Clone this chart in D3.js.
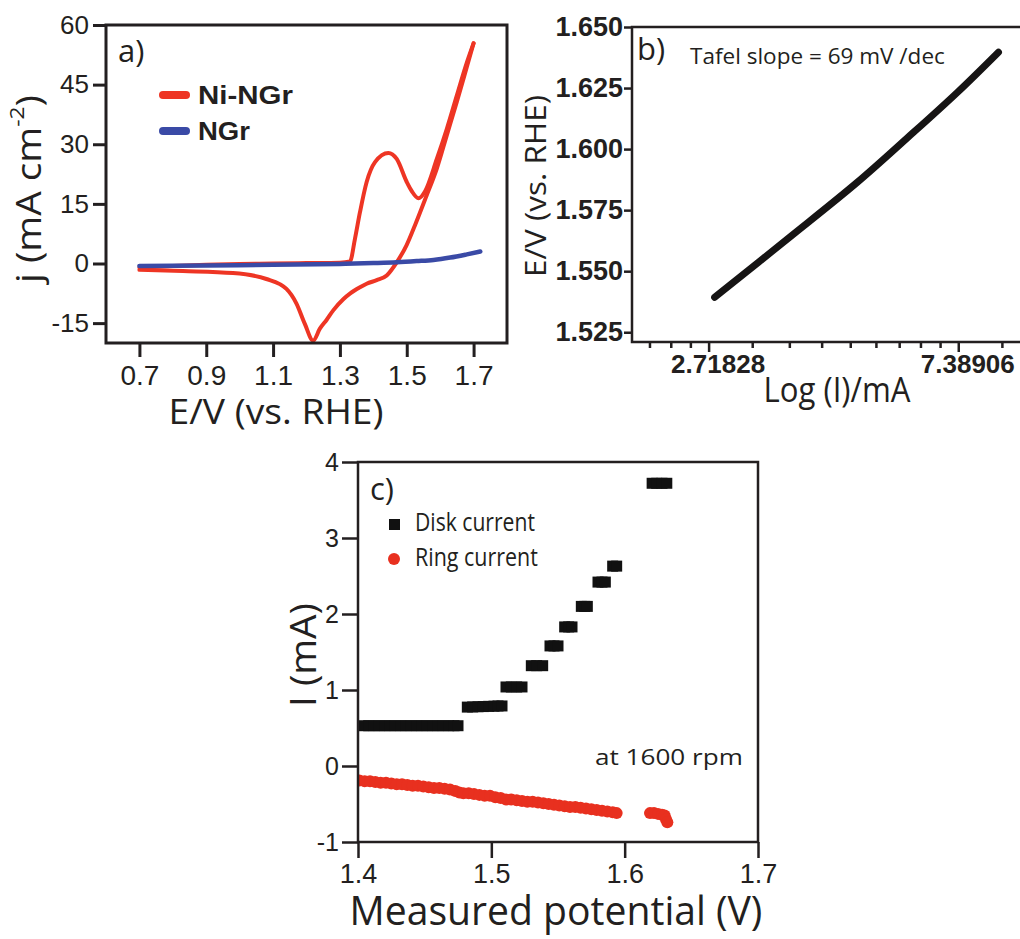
<!DOCTYPE html>
<html><head><meta charset="utf-8">
<script src="https://cdn.jsdelivr.net/npm/d3@7"></script>
<style>body{margin:0;background:#fff}</style>
</head><body><svg id="c" width="1020" height="939"></svg>
<script>
// ---------------- Panel a data ----------------
const aXTicks = [0.7, 0.9, 1.1, 1.3, 1.5, 1.7];
const aYTicks = [-15, 0, 15, 30, 45, 60];
const niFwdV = [0.70,0.80,0.90,1.00,1.10,1.20,1.30,1.33,1.345,1.36,1.38,1.405,1.445,1.47,1.50,1.515,1.535,1.555,1.59,1.62,1.65,1.68,1.70];
const niFwdJ = [-1.0,-0.6,-0.3,-0.1,0,0.1,0.2,0.5,6.2,12.9,20.5,25.5,27.8,26.3,20.5,18.2,16.4,18.2,26.3,33.9,42.3,50.6,55.4];
const niRevV = [0.70,0.83,0.98,1.08,1.14,1.17,1.195,1.22,1.24,1.26,1.28,1.31,1.33,1.36,1.38,1.41,1.44,1.47,1.50,1.525,1.558,1.59,1.62,1.65,1.68,1.70];
const niRevJ = [-1.6,-1.9,-2.4,-3.9,-6.4,-10.1,-15.2,-19.4,-16.4,-14.2,-11.8,-9.0,-7.6,-6.0,-5.1,-4.2,-3.0,0.3,4.7,9.7,16.8,23.9,32.3,40.7,49.5,55.4];
const ngrV = [0.70,0.90,1.10,1.30,1.40,1.47,1.53,1.58,1.63,1.68,1.72];
const ngrJ = [-0.6,-0.5,-0.3,-0.1,0.1,0.3,0.6,0.9,1.5,2.3,3.0];

// ---------------- Panel b data ----------------
const bYTicks = [1.525, 1.550, 1.575, 1.600, 1.625, 1.650];
const bMajorTicks = [2.71828, 7.38906];
const bMinorTicks = [2.145, 2.336, 2.527, 3.237, 3.756, 4.275, 4.794, 5.313, 5.832, 6.351, 6.870, 8.800];
const tafelI = [2.785, 3.76, 4.92, 6.02, 7.36, 8.68];
const tafelE = [1.5393, 1.5639, 1.5862, 1.6045, 1.6232, 1.6397];

// ---------------- Panel c data ----------------
const cXTicks = [1.4, 1.5, 1.6, 1.7];
const cYTicks = [-1, 0, 1, 2, 3, 4];
const diskV = [1.404,1.408,1.412,1.416,1.420,1.424,1.428,1.432,1.436,1.440,1.444,1.448,1.452,1.456,1.460,1.464,1.468,1.472,1.475,
  1.482,1.486,1.490,1.494,1.498,1.502,1.505,1.508,
  1.511,1.515,1.519,1.523,
  1.530,1.534,1.5385,
  1.544,1.547,1.550,
  1.555,1.558,1.5605,
  1.5675,1.570,1.572,
  1.580,1.583,1.5855,
  1.591,1.594,
  1.6206,1.624,1.628,1.6316];
const diskI = [0.53,0.53,0.53,0.53,0.53,0.53,0.53,0.53,0.53,0.53,0.53,0.53,0.53,0.53,0.53,0.53,0.53,0.53,0.53,
  0.775,0.777,0.78,0.782,0.785,0.787,0.79,0.79,
  1.04,1.04,1.04,1.04,
  1.32,1.32,1.32,
  1.58,1.58,1.58,
  1.83,1.83,1.83,
  2.10,2.10,2.10,
  2.42,2.42,2.42,
  2.63,2.63,
  3.72,3.72,3.72,3.72];
const ringV = [1.401,1.405,1.409,1.413,1.417,1.421,1.425,1.429,1.433,1.437,1.441,1.445,1.449,1.453,1.457,1.461,1.465,1.469,1.473,1.476,1.479,
  1.483,1.487,1.491,1.495,1.499,1.503,1.507,1.511,1.515,1.519,1.523,1.527,1.531,1.535,1.539,1.543,1.547,1.551,1.555,1.559,1.563,1.567,1.571,1.575,1.579,1.583,1.587,1.591,1.594,
  1.619,1.622,1.625,1.628,1.630,1.631,1.632];
const ringI = [-0.19,-0.20,-0.20,-0.21,-0.22,-0.22,-0.23,-0.24,-0.24,-0.25,-0.26,-0.26,-0.27,-0.28,-0.29,-0.29,-0.30,-0.31,-0.33,-0.35,-0.36,
  -0.36,-0.37,-0.38,-0.39,-0.39,-0.41,-0.42,-0.44,-0.44,-0.45,-0.46,-0.47,-0.47,-0.48,-0.49,-0.50,-0.51,-0.52,-0.53,-0.54,-0.54,-0.55,-0.56,-0.57,-0.58,-0.59,-0.60,-0.61,-0.62,
  -0.62,-0.62,-0.63,-0.64,-0.65,-0.70,-0.74];

const zip = (a, b) => a.slice(0, Math.min(a.length, b.length)).map((v, i) => [v, b[i]]);

const svg = d3.select('#c');
const INK = '#231f20';
const SANS = "'Liberation Sans', Arial, sans-serif";
const MYR = "'Open Sans', 'Noto Sans', sans-serif";
const RED = '#ee3524', BLUE = '#3a4aa6', RING = '#e8301f';

function label(g, o) {
  const t = g.append('text')
    .attr('font-size', o.size).attr('font-family', o.family || MYR)
    .attr('font-weight', o.weight || 'normal')
    .attr('text-anchor', o.anchor || 'start')
    .attr('fill', o.fill || INK);
  if (o.baseline) t.attr('dominant-baseline', o.baseline);
  if (o.build) o.build(t); else t.text(o.text);
  let k = 1;
  if (o.width) { const L = t.node().getComputedTextLength(); if (L > 0) k = o.width / L; }
  t.attr('transform', `translate(${o.x},${o.y}) rotate(${o.rotate || 0}) scale(${k},1)`);
  return t;
}
function styleAxis(g, sw, font, size, weight) {
  g.select('.domain').remove();
  g.selectAll('.tick line').attr('stroke', INK).attr('stroke-width', sw);
  g.selectAll('.tick text').attr('fill', INK).attr('font-family', font).attr('font-size', size).attr('font-weight', weight || 'normal');
}

// =============== Panel a ===============
{
  const g = svg.append('g');
  const x = d3.scaleLinear().domain([0.6, 1.8]).range([106, 507]);
  const y = d3.scaleLinear().domain([-20, 60]).range([343, 25]);
  const line = d3.line().x(d => x(d[0])).y(d => y(d[1])).curve(d3.curveMonotoneX);
  g.append('clipPath').attr('id', 'clipA').append('rect')
    .attr('x', x(0.6)).attr('y', y(60) - 2).attr('width', x(1.8) - x(0.6)).attr('height', y(-20) - y(60) + 2);
  const plot = g.append('g').attr('clip-path', 'url(#clipA)');
  plot.append('path').attr('d', line(zip(niRevV, niRevJ))).attr('fill', 'none').attr('stroke', RED).attr('stroke-width', 4).attr('stroke-linecap', 'round');
  plot.append('path').attr('d', line(zip(niFwdV, niFwdJ))).attr('fill', 'none').attr('stroke', RED).attr('stroke-width', 4).attr('stroke-linecap', 'round');
  plot.append('path').attr('d', line(zip(ngrV, ngrJ))).attr('fill', 'none').attr('stroke', BLUE).attr('stroke-width', 4.5).attr('stroke-linecap', 'round');

  g.append('rect').attr('x', x(0.6)).attr('y', y(60)).attr('width', x(1.8) - x(0.6)).attr('height', y(-20) - y(60))
    .attr('fill', 'none').attr('stroke', INK).attr('stroke-width', 3);
  const ax = g.append('g').attr('transform', `translate(0,${y(-20)})`)
    .call(d3.axisBottom(x).tickValues(aXTicks).tickSize(14).tickSizeOuter(0).tickPadding(8).tickFormat(d3.format('.1f')));
  styleAxis(ax, 3, SANS, 28);
  const ay = g.append('g').attr('transform', `translate(${x(0.6)},0)`)
    .call(d3.axisLeft(y).tickValues(aYTicks).tickSize(13).tickSizeOuter(0).tickPadding(4).tickFormat(d => String(d)));
  styleAxis(ay, 3, SANS, 26);

  label(g, { x: 276, y: 424, text: 'E/V (vs. RHE)', size: 35, anchor: 'middle', width: 215 });
  label(g, { x: 28, y: 189, rotate: -90, size: 34, anchor: 'middle', baseline: 'central', width: 188,
    build: t => { t.append('tspan').text('j (mA cm'); t.append('tspan').attr('font-size', 20).attr('dy', -12).text('-2'); t.append('tspan').attr('dy', 12).text(')'); } });
  label(g, { x: 118, y: 62, text: 'a)', size: 31 });
  // legend
  g.append('line').attr('x1', 163).attr('x2', 186).attr('y1', 95).attr('y2', 95).attr('stroke', RED).attr('stroke-width', 8).attr('stroke-linecap', 'round');
  label(g, { x: 198, y: 104, text: 'Ni-NGr', size: 26, family: SANS, weight: 'bold', width: 95 });
  g.append('line').attr('x1', 163).attr('x2', 186).attr('y1', 131).attr('y2', 131).attr('stroke', BLUE).attr('stroke-width', 8).attr('stroke-linecap', 'round');
  label(g, { x: 198, y: 140, text: 'NGr', size: 26, family: SANS, weight: 'bold', width: 52 });
}

// =============== Panel b ===============
{
  const g = svg.append('g');
  const x = d3.scaleLog().domain([2, 9.5]).range([632, 1021]);
  const y = d3.scaleLinear().domain([1.521, 1.650]).range([342, 27]);
  const line = d3.line().x(d => x(d[0])).y(d => y(d[1])).curve(d3.curveCatmullRom.alpha(0.5));
  g.append('path').attr('d', line(zip(tafelI, tafelE))).attr('fill', 'none').attr('stroke', '#161414').attr('stroke-width', 7).attr('stroke-linecap', 'round');
  g.append('path').attr('d', `M${x(9.5) + 5},${y(1.650)}H${x(2)}V${y(1.521)}H${x(9.5) + 5}`)
    .attr('fill', 'none').attr('stroke', INK).attr('stroke-width', 2.5);
  const axMin = g.append('g').attr('transform', `translate(0,${y(1.521)})`)
    .call(d3.axisBottom(x).tickValues(bMinorTicks).tickSize(6).tickSizeOuter(0).tickFormat(''));
  styleAxis(axMin, 2.5, SANS, 10);
  const ax = g.append('g').attr('transform', `translate(0,${y(1.521)})`)
    .call(d3.axisBottom(x).tickValues(bMajorTicks).tickSize(10).tickSizeOuter(0).tickPadding(3).tickFormat(d => d.toFixed(5)));
  styleAxis(ax, 2.5, SANS, 26, 'bold');
  ax.selectAll('.tick text').attr('dx', 9);
  const ay = g.append('g').attr('transform', `translate(${x(2)},0)`)
    .call(d3.axisLeft(y).tickValues(bYTicks).tickSize(8).tickSizeOuter(0).tickPadding(1).tickFormat(d3.format('.3f')));
  styleAxis(ay, 2.5, SANS, 27, 'bold');

  label(g, { x: 837, y: 402, text: 'Log (I)/mA', size: 34, anchor: 'middle', width: 147 });
  label(g, { x: 534, y: 186, rotate: -90, text: 'E/V (vs. RHE)', size: 30, anchor: 'middle', baseline: 'central', width: 182 });
  label(g, { x: 637, y: 60, text: 'b)', size: 31 });
  label(g, { x: 690, y: 64, text: 'Tafel slope = 69 mV /dec', size: 21, width: 255 });
}

// =============== Panel c ===============
{
  const g = svg.append('g');
  const x = d3.scaleLinear().domain([1.4, 1.7]).range([358, 758]);
  const y = d3.scaleLinear().domain([-1, 4]).range([842, 462]);
  g.append('clipPath').attr('id', 'clipC').append('rect').attr('x', x(1.4)).attr('y', y(4)).attr('width', x(1.7) - x(1.4)).attr('height', y(-1) - y(4));
  const plot = g.append('g').attr('clip-path', 'url(#clipC)');
  plot.selectAll('circle.ring').data(zip(ringV, ringI)).join('circle').attr('class', 'ring')
    .attr('cx', d => x(d[0])).attr('cy', d => y(d[1])).attr('r', 6).attr('fill', RING);
  plot.selectAll('rect.disk').data(zip(diskV, diskI)).join('rect').attr('class', 'disk')
    .attr('x', d => x(d[0]) - 5.5).attr('y', d => y(d[1]) - 5.5).attr('width', 11).attr('height', 11).attr('fill', '#111');

  g.append('rect').attr('x', x(1.4)).attr('y', y(4)).attr('width', x(1.7) - x(1.4)).attr('height', y(-1) - y(4))
    .attr('fill', 'none').attr('stroke', INK).attr('stroke-width', 2.5);
  const ax = g.append('g').attr('transform', `translate(0,${y(-1)})`)
    .call(d3.axisBottom(x).tickValues(cXTicks).tickSize(16).tickSizeOuter(0).tickPadding(6).tickFormat(d3.format('.1f')));
  styleAxis(ax, 2.5, SANS, 27);
  const ay = g.append('g').attr('transform', `translate(${x(1.4)},0)`)
    .call(d3.axisLeft(y).tickValues(cYTicks).tickSize(16).tickSizeOuter(0).tickPadding(3).tickFormat(d => String(d)));
  styleAxis(ay, 2.5, SANS, 25);

  label(g, { x: 556, y: 925, text: 'Measured potential (V)', size: 40, anchor: 'middle', width: 413 });
  label(g, { x: 302, y: 655, rotate: -90, text: 'I (mA)', size: 36, anchor: 'middle', baseline: 'central', width: 104 });
  label(g, { x: 370, y: 500, text: 'c)', size: 31 });
  // legend
  g.append('rect').attr('x', 389).attr('y', 519).attr('width', 11).attr('height', 11).attr('fill', '#111');
  label(g, { x: 415, y: 531, text: 'Disk current', size: 26, width: 120 });
  g.append('circle').attr('cx', 394).attr('cy', 559).attr('r', 6).attr('fill', RING);
  label(g, { x: 415, y: 566, text: 'Ring current', size: 26, width: 123 });
  label(g, { x: 595, y: 765, text: 'at 1600 rpm', size: 22, width: 148 });
}
</script>
</body></html>
